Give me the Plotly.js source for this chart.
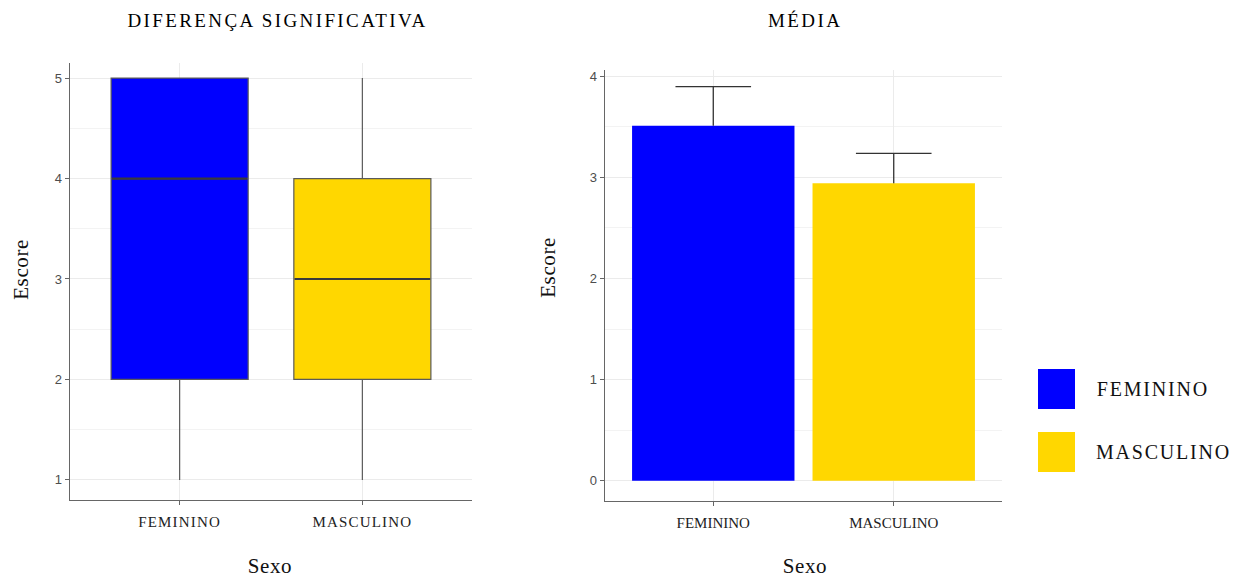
<!DOCTYPE html>
<html><head><meta charset="utf-8">
<script src="https://cdn.plot.ly/plotly-3.0.1.min.js"></script>
<style>html,body{margin:0;padding:0;background:#fff}#c{width:1242px;height:577px}</style>
</head><body><div id="c"></div>
<script>
const categories = ['FEMININO', 'MASCULINO'];
const colors = ['#0000FF', '#FFD700'];
// boxplot stats
const q1 = [2, 2];
const medians = [4, 3];
const q3 = [5, 4];
const lowerFence = [1, 1];
const upperFence = [5, 5];
// bar means and upper error
const means = [3.51, 2.94];
const errUp = [0.385, 0.295];

const W = 1242, H = 577;
const px = v => v / W, py = v => 1 - v / H;
const serif = 'Liberation Serif, Times New Roman, serif';
const sans = 'Liberation Sans, Arial, sans-serif';

const traces = [];
categories.forEach((c, i) => {
  traces.push({
    type: 'box', x: [c], q1: [q1[i]], median: [medians[i]], q3: [q3[i]],
    lowerfence: [lowerFence[i]], upperfence: [upperFence[i]],
    fillcolor: colors[i], line: {color: '#5a5a5a', width: 1.2},
    whiskerwidth: 0, width: 0.75, xaxis: 'x', yaxis: 'y', showlegend: false, hoverinfo: 'skip'
  });
  // thicker median line
  traces.push({
    type: 'box', x: [c], q1: [medians[i]], median: [medians[i]], q3: [medians[i]],
    lowerfence: [medians[i]], upperfence: [medians[i]],
    fillcolor: 'rgba(0,0,0,0)', line: {color: '#3a3a3a', width: 2.2},
    whiskerwidth: 0, width: 0.74, xaxis: 'x', yaxis: 'y', showlegend: false, hoverinfo: 'skip'
  });
  traces.push({
    type: 'bar', x: [c], y: [means[i]], width: 0.9,
    marker: {color: colors[i], line: {width: 0}},
    xaxis: 'x2', yaxis: 'y2', showlegend: false, hoverinfo: 'skip'
  });
  // error bar: vertical stem from mean to mean+err, cap on top only
  traces.push({
    type: 'scatter', mode: 'markers', x: [c], y: [means[i] + errUp[i]],
    marker: {symbol: 'line-ew', size: 54, color: '#333333', line: {color: '#333333', width: 1.3}},
    error_y: {type: 'data', symmetric: false, array: [0], arrayminus: [errUp[i]], color: '#333333', thickness: 1.3, width: 0},
    xaxis: 'x2', yaxis: 'y2', showlegend: false, hoverinfo: 'skip', cliponaxis: false
  });
});

const axCommon = {
  showline: true, linecolor: '#666666', linewidth: 1.3, zeroline: false,
  ticks: 'outside', ticklen: 4, tickcolor: '#666666',
  showgrid: true, gridcolor: '#ebebeb', gridwidth: 1
};
const xAx = (dom, anchor) => Object.assign({}, axCommon, {
  domain: dom, anchor: anchor, type: 'category', categoryarray: categories, range: [-0.6, 1.6],
  tickfont: {family: serif, size: 15, color: '#222'}, ticklabelstandoff: 4
});
const yAx = (dom, range, anchor) => Object.assign({}, axCommon, {
  domain: dom, range: range, dtick: 1, tick0: 0, anchor: anchor,
  tickfont: {family: sans, size: 13, color: '#4d4d4d'},
  minor: {dtick: 0.5, showgrid: true, gridcolor: '#f3f3f3', ticks: ''}
});

const shapes = [], annotations = [];
const ann = (x, y, text, size, cls, extra) => annotations.push(Object.assign({
  xref: 'paper', yref: 'paper', x: px(x), y: py(y), xanchor: 'center', yanchor: 'middle',
  text: text, showarrow: false, font: {family: serif, size: size, color: '#111'}, name: cls
}, extra || {}));
categories.forEach((c, i) => {
  const top = 369 + i * 63;
  shapes.push({type: 'rect', xref: 'paper', yref: 'paper', x0: px(1038), x1: px(1075), y0: py(top + 40), y1: py(top),
    fillcolor: colors[i], line: {width: 0}});
  ann(1102, top + 20, c, 20, 'leg', {xanchor: 'left'});
});
ann(277, 20, 'DIFERENÇA SIGNIFICATIVA', 19, 'title', {font: {family: serif, size: 19, color: '#000'}});
ann(805, 20, 'MÉDIA', 19, 'title', {font: {family: serif, size: 19, color: '#000'}});
ann(270, 566, 'Sexo', 21, 'axt');
ann(805, 566, 'Sexo', 21, 'axt');
ann(21, 270, 'Escore', 21, 'axt', {textangle: -90});
ann(548, 268, 'Escore', 21, 'axt', {textangle: -90});

const layout = {
  width: W, height: H, margin: {l: 0, r: 0, t: 0, b: 0},
  paper_bgcolor: '#fff', plot_bgcolor: '#fff', showlegend: false,
  xaxis: xAx([px(70), px(472)], 'y'),
  yaxis: yAx([py(500), py(63)], [0.8, 5.15], 'x'),
  xaxis2: xAx([px(605), px(1002)], 'y2'),
  yaxis2: yAx([py(501), py(70)], [-0.2, 4.06], 'x2'),
  shapes: shapes, annotations: annotations
};
Plotly.newPlot('c', traces, layout, {staticPlot: true, displayModeBar: false}).then(gd => {
  const spacing = {title: '2.4px', leg: '1.8px', axt: '0.6px'};
  gd.querySelectorAll('.annotation').forEach((g, idx) => {
    const a = layout.annotations[idx];
    const t = g.querySelector('text');
    if (a && t && spacing[a.name]) t.style.letterSpacing = spacing[a.name];
  });
  gd.querySelectorAll('.xtick text').forEach(t => { t.style.letterSpacing = '1.2px'; });
});
</script></body></html>
